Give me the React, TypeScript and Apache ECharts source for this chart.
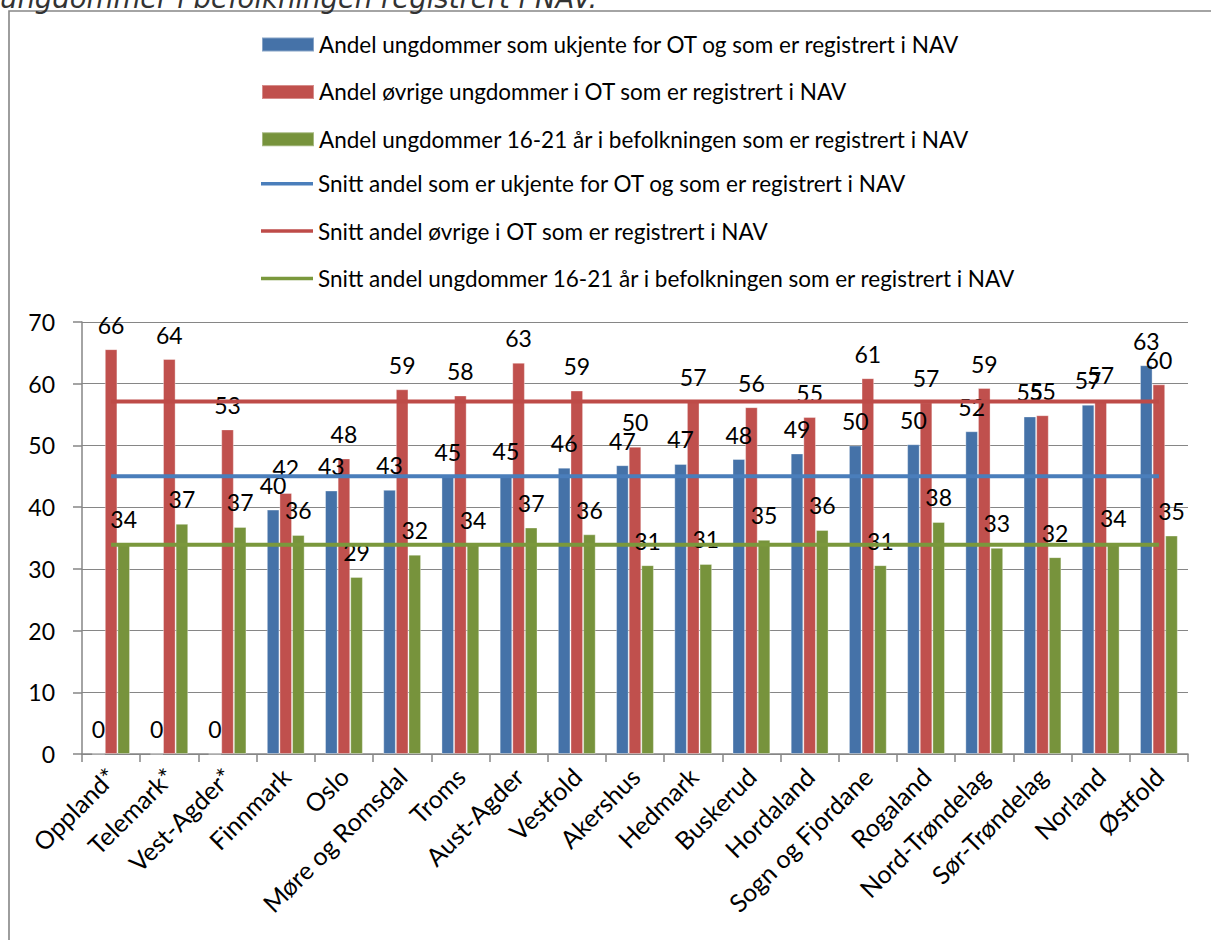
import React, { useEffect, useRef } from "react";
import * as echarts from "echarts";

const categories = [
  "Oppland*", "Telemark*", "Vest-Agder*", "Finnmark", "Oslo", "Møre og Romsdal",
  "Troms", "Aust-Agder", "Vestfold", "Akershus", "Hedmark", "Buskerud",
  "Hordaland", "Sogn og Fjordane", "Rogaland", "Nord-Trøndelag", "Sør-Trøndelag",
  "Norland", "Østfold",
];

const ukjente = [0, 0, 0, 39.6, 42.7, 42.8, 45.0, 45.2, 46.4, 46.8, 47.0, 47.8, 48.7, 50.0, 50.2, 52.3, 54.7, 56.6, 63.0];
const ovrige = [65.6, 64.0, 52.6, 42.3, 47.9, 59.1, 58.1, 63.4, 58.9, 49.8, 57.1, 56.2, 54.6, 60.9, 57.0, 59.3, 54.9, 57.4, 59.9];
const befolkning = [34.1, 37.3, 36.8, 35.5, 28.7, 32.3, 33.9, 36.7, 35.6, 30.6, 30.8, 34.7, 36.3, 30.6, 37.6, 33.4, 31.9, 34.2, 35.4];

const snittUkjente = 45.0;
const snittOvrige = 57.1;
const snittBefolkning = 33.9;

const yTicks = { min: 0, max: 70, interval: 10 };

const seriesNames = [
  "Andel ungdommer som ukjente for OT og som er registrert i NAV",
  "Andel øvrige ungdommer i OT som er registrert i NAV",
  "Andel ungdommer 16-21 år i befolkningen som er registrert i NAV",
  "Snitt andel som er ukjente for OT og som er registrert i NAV",
  "Snitt andel øvrige i OT som er registrert i NAV",
  "Snitt andel ungdommer 16-21 år i befolkningen som er registrert i NAV",
];

const titleText = "ungdommer i befolkningen registrert i NAV.";

const FONT = "Lato, 'Open Sans', sans-serif";
const GRAY = "#868686";

export default function App() {
  const ref = useRef<HTMLDivElement>(null);

  useEffect(() => {
    if (!ref.current) return;
    const chart = echarts.init(ref.current, null, { renderer: "svg" });

    const barLabel = {
      show: true,
      position: "top" as const,
      distance: 13,
      color: "#000",
      fontFamily: FONT,
      fontSize: 23,
      formatter: (p: any) => String(Math.round(p.value)),
    };

    const barSeries = (name: string, data: number[], color: string) => ({
      name,
      type: "bar",
      data,
      barGap: "0%",
      barCategoryGap: "35%",
      itemStyle: { color, borderColor: "rgba(255,255,255,0.35)", borderWidth: 1 },
      label: barLabel,
      z: 2,
    });

    const lineSeries = (name: string, value: number, color: string) => ({
      name,
      type: "line",
      data: categories.map(() => value),
      symbol: "none",
      showSymbol: false,
      lineStyle: { color, width: 4 },
      itemStyle: { color },
      z: 5,
      silent: true,
    });

    const legendText = { fontFamily: FONT, fontSize: 22.5, color: "#000", lineHeight: 22, height: 22 };

    chart.setOption({
      animation: false,
      backgroundColor: "#fff",
      textStyle: { fontFamily: FONT },
      graphic: [
        {
          type: "rect",
          shape: { x: 9, y: 11, width: 1400, height: 1100 },
          style: { fill: "none", stroke: GRAY, lineWidth: 1.6 },
          silent: true,
        },
        {
          type: "text",
          x: 0,
          y: 11,
          style: {
            text: titleText,
            fontFamily: "'DejaVu Sans', sans-serif",
            fontStyle: "italic",
            fontSize: 27.5,
            fill: "#333",
            verticalAlign: "bottom",
          },
          silent: true,
        },
      ],
      legend: [
        {
          orient: "vertical",
          left: 261,
          top: 33,
          padding: 0,
          itemWidth: 52,
          itemHeight: 14,
          itemGap: 24.4,
          textStyle: legendText,
          data: [
            { name: seriesNames[0], icon: "rect" },
            { name: seriesNames[1], icon: "rect" },
            { name: seriesNames[2], icon: "rect" },
          ],
          selectedMode: false,
        },
        {
          orient: "vertical",
          left: 261,
          top: 172.2,
          padding: 0,
          itemWidth: 52,
          itemHeight: 3.5,
          itemGap: 24.4,
          textStyle: legendText,
          data: [
            { name: seriesNames[3], icon: "rect" },
            { name: seriesNames[4], icon: "rect" },
            { name: seriesNames[5], icon: "rect" },
          ],
          selectedMode: false,
        },
      ],
      grid: { left: 82, right: 23, top: 322, bottom: 186, containLabel: false },
      xAxis: {
        type: "category",
        data: categories,
        boundaryGap: true,
        axisLine: { lineStyle: { color: GRAY, width: 1.5 } },
        axisTick: { show: true, length: 8, lineStyle: { color: GRAY, width: 1.5 } },
        axisLabel: {
          rotate: 45,
          interval: 0,
          margin: 18,
          color: "#000",
          fontFamily: FONT,
          fontSize: 25,
        },
      },
      yAxis: {
        type: "value",
        min: yTicks.min,
        max: yTicks.max,
        interval: yTicks.interval,
        axisLine: { show: true, lineStyle: { color: GRAY, width: 1.5 } },
        axisTick: { show: true, length: 9, lineStyle: { color: GRAY, width: 1.5 } },
        splitLine: { show: true, lineStyle: { color: GRAY, width: 1.2 } },
        axisLabel: { margin: 27, color: "#000", fontFamily: FONT, fontSize: 23 },
      },
      series: [
        barSeries(seriesNames[0], ukjente, "#4572A8"),
        barSeries(seriesNames[1], ovrige, "#C0504D"),
        barSeries(seriesNames[2], befolkning, "#77933C"),
        lineSeries(seriesNames[3], snittUkjente, "#4A7EBB"),
        lineSeries(seriesNames[4], snittOvrige, "#BE4B48"),
        lineSeries(seriesNames[5], snittBefolkning, "#7A983C"),
      ],
    });

    return () => chart.dispose();
  }, []);

  return (
    <div
      ref={ref}
      style={{ position: "absolute", left: 0, top: 0, width: 1211, height: 940 }}
    />
  );
}
